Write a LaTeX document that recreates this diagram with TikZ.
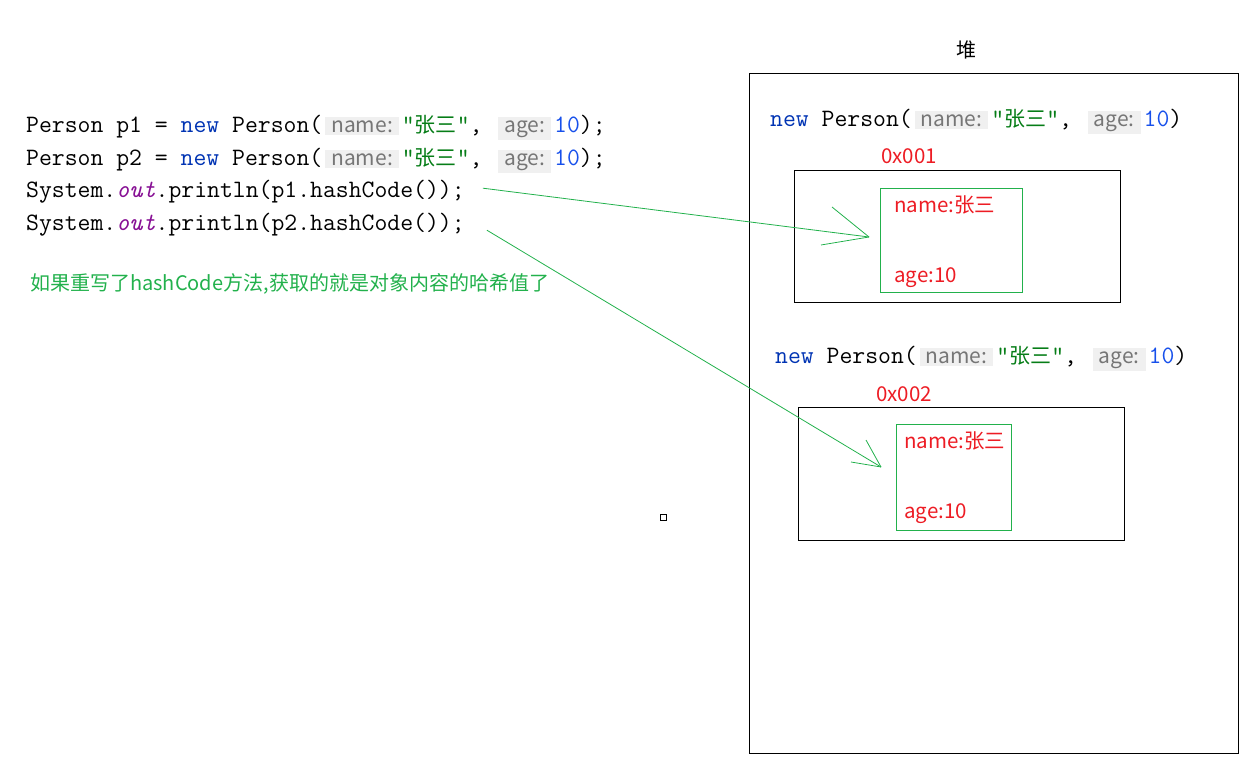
\documentclass[tikz,border=0pt]{standalone}
\usepackage{fontspec}
\newfontfamily\cjk{Noto Sans CJK SC}
\usetikzlibrary{positioning}

\definecolor{kwblue}{RGB}{0,51,179}
\definecolor{numblue}{RGB}{23,80,235}
\definecolor{strgreen}{RGB}{6,125,23}
\definecolor{hintbg}{RGB}{240,240,240}
\definecolor{hintfg}{RGB}{118,118,118}
\definecolor{outpurple}{RGB}{135,16,148}
\definecolor{addrred}{RGB}{237,28,36}
\definecolor{linegreen}{RGB}{34,177,76}

\newcommand{\jhint}[1]{\hspace{3pt}{\setlength{\fboxsep}{3pt}\colorbox{hintbg}{\hspace{3pt}\cjk\color{hintfg}\fontsize{21}{21}\selectfont #1\hspace{3pt}}}\hspace{3pt}}
\newcommand{\jkw}[1]{\textcolor{kwblue}{#1}}
\newcommand{\jstr}[1]{\textcolor{strgreen}{"{\cjk\fontsize{21}{21}\selectfont #1}"}}
\newcommand{\jnum}[1]{\textcolor{numblue}{#1}}
\newcommand{\jout}{\textcolor{outpurple}{\itshape out}}

\tikzset{
  code/.style={anchor=base west, inner sep=0, font=\ttfamily\fontsize{25}{26}\selectfont},
  addr/.style={anchor=base west, inner sep=0, text=addrred, font=\cjk\fontsize{20.5}{21}\selectfont},
  objbox/.style={draw, line width=1pt, anchor=north west, inner sep=0},
  fieldbox/.style={draw=linegreen, line width=1pt, anchor=north west, inner sep=0},
  arrowline/.style={draw=linegreen, line width=0.8pt}
}

\begin{document}
\begin{tikzpicture}[x=1pt,y=-1pt]
\useasboundingbox (0,0) rectangle (1252,758);

% code on the left
\node[code] (p1line) at (26,132) {Person p1 = \jkw{new} Person(\jhint{name:}\jstr{张三}, \jhint{age:}\jnum{10});};
\node[code] (p2line) at (26,165) {Person p2 = \jkw{new} Person(\jhint{name:}\jstr{张三}, \jhint{age:}\jnum{10});};
\node[code] (hash1) at (26,197) {System.\jout.println(p1.hashCode());};
\node[code] (hash2) at (26,230) {System.\jout.println(p2.hashCode());};
\node[anchor=base west, inner sep=0, text=linegreen, font=\cjk\fontsize{20}{20}\selectfont] (note) at (30,290) {如果重写了hashCode方法,获取的就是对象内容的哈希值了};

% heap
\node[font=\cjk\fontsize{20}{20}\selectfont, inner sep=0] (heaptitle) at (966,50) {堆};
\node[objbox, minimum width=489pt, minimum height=680pt] (heap) at (749,73) {};

% first object
\node[code] (new1) at (770,126) {\jkw{new} Person(\jhint{name:}\jstr{张三}, \jhint{age:}\jnum{10})};
\node[addr] (addr1) at (881,163) {0x001};
\node[objbox, minimum width=326pt, minimum height=132pt] (obj1) at (794,170) {};
\node[fieldbox, minimum width=142pt, minimum height=104pt] (field1) at (880,188) {};
\node[addr] (name1) at (894,212) {name:张三};
\node[addr] (age1) at (894,282) {age:10};

% second object
\node[code] (new2) at (775,363) {\jkw{new} Person(\jhint{name:}\jstr{张三}, \jhint{age:}\jnum{10})};
\node[addr] (addr2) at (876,401) {0x002};
\node[objbox, minimum width=326pt, minimum height=133pt] (obj2) at (798,407) {};
\node[fieldbox, minimum width=115pt, minimum height=106pt] (field2) at (896,424) {};
\node[addr] (name2) at (904,448) {name:张三};
\node[addr] (age2) at (904,518) {age:10};

\node[draw, line width=1pt, minimum size=6pt, inner sep=0] (speck) at (663,517) {};

% arrows
\coordinate (tip1) at (869,237);
\coordinate (tip2) at (881,467);
\draw[arrowline] ([xshift=18pt,yshift=3pt]hash1.east) -- (tip1);
\draw[arrowline] (tip1) -- +(-37,-30);
\draw[arrowline] (tip1) -- +(-48,8);
\draw[arrowline] ([xshift=22pt,yshift=-6pt]hash2.east) -- (tip2);
\draw[arrowline] (tip2) -- +(-15,-27);
\draw[arrowline] (tip2) -- +(-30,-5);
\end{tikzpicture}
\end{document}
